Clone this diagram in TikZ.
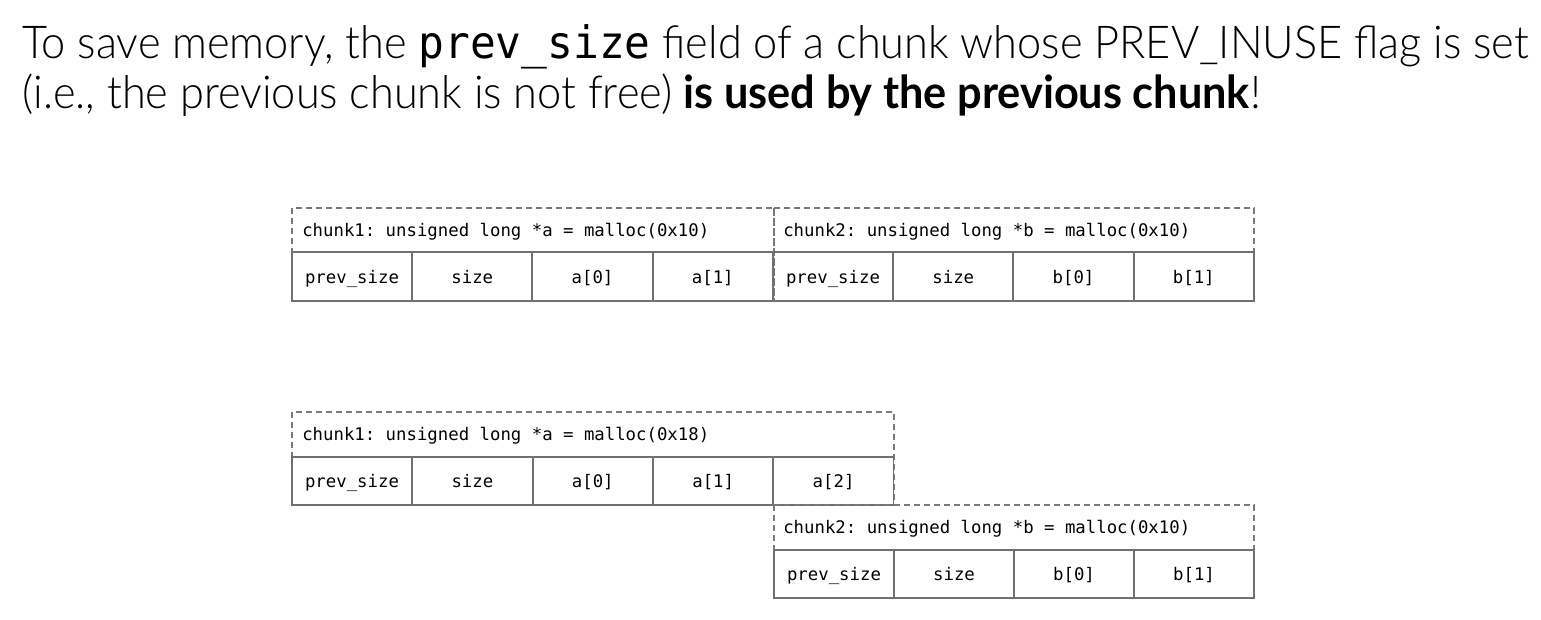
\documentclass[tikz,border=0pt]{standalone}
\usepackage{fontspec}
\setmainfont{Lato}[UprightFont={* Light}, BoldFont={* Bold}, FakeStretch=0.955]
\setmonofont{DejaVu Sans Mono}
\newfontfamily\headmono{DejaVu Sans Mono}[FakeStretch=0.96]
\definecolor{cellgray}{HTML}{707070}
\definecolor{dashgray}{HTML}{7A7A7A}
\tikzset{
  cellbox/.style={draw=cellgray, line width=1.3pt, minimum width=90pt, minimum height=36.5pt,
    inner sep=0pt, text height=10pt, text depth=0pt, font=\ttfamily\fontsize{13}{15}\selectfont},
  hdr/.style={anchor=base west, inner sep=0pt, font=\ttfamily\fontsize{13}{15}\selectfont},
  dashbox/.style={draw=dashgray, line width=1.2pt, dash pattern=on 4.5pt off 3pt},
  titletext/.style={anchor=base west, inner sep=0pt, font=\fontsize{34}{40}\selectfont},
}
\begin{document}
\begin{tikzpicture}[x=0.75pt, y=-0.75pt]
\useasboundingbox (0,0) rectangle (1541,619);

% heading
\node[titletext] (t1) at (22,58) {To save memory, the {\headmono\fontsize{33.5}{40}\selectfont prev\_size} field of a chunk whose PREV\_INUSE flag is set};
\node[titletext] (t2) at (22,108) {(i.e., the previous chunk is not free) \textbf{is used by the previous chunk}!};

% ---- upper layout: two chunks of malloc(0x10)
\draw[dashbox] (292,208) rectangle (774,301);
\draw[dashbox] (774,208) rectangle (1254,301);
\node[hdr] (ua) at (302,236) {chunk1: unsigned long *a = malloc(0x10)};
\node[hdr] (ub) at (783,236) {chunk2: unsigned long *b = malloc(0x10)};
\foreach \i/\t [count=\k from 0] in {1/prev\_size, 2/size, 3/a[0], 4/a[1], 5/prev\_size, 6/size, 7/b[0], 8/b[1]}
  \node[cellbox] (u\i) at (352+120.25*\k,276.5) {\t};

% ---- lower layout: chunk1 grows to malloc(0x18)
\draw[dashbox] (292,412) rectangle (894,505);
\node[hdr] (la) at (302,440) {chunk1: unsigned long *a = malloc(0x18)};
\foreach \i/\t [count=\k from 0] in {1/prev\_size, 2/size, 3/a[0], 4/a[1], 5/a[2]}
  \node[cellbox] (l\i) at (352+120.4*\k,481) {\t};

\draw[dashbox] (774,505) rectangle (1254,598);
\node[hdr] (lb) at (783,533) {chunk2: unsigned long *b = malloc(0x10)};
\foreach \i/\t [count=\k from 0] in {6/prev\_size, 7/size, 8/b[0], 9/b[1]}
  \node[cellbox] (l\i) at (834+120*\k,574) {\t};
\end{tikzpicture}
\end{document}
